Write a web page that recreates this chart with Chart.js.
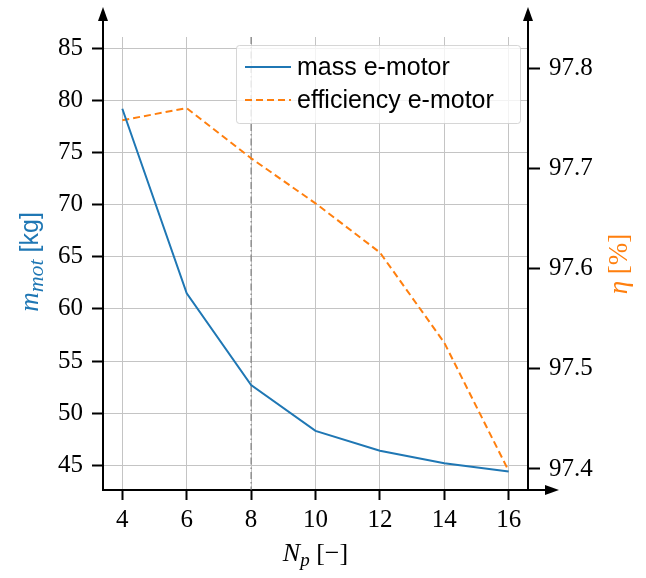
<!DOCTYPE html>
<html>
<head>
<meta charset="utf-8">
<script src="https://cdn.jsdelivr.net/npm/chart.js@4.4.0/dist/chart.umd.min.js"></script>
<style>
body { margin: 0; background: #fff; }
canvas { display: block; }
</style>
</head>
<body>
<canvas id="myChart" width="646" height="578"></canvas>
<script>
var np = [4, 6, 8, 10, 12, 14, 16];
var massMotor = [79.2, 61.5, 52.7, 48.3, 46.4, 45.2, 44.4];
var effMotor = [97.748, 97.760, 97.710, 97.665, 97.616, 97.526, 97.398];
var xTicks = [4, 6, 8, 10, 12, 14, 16];
var massTicks = [45, 50, 55, 60, 65, 70, 75, 80, 85];
var effTicks = [97.4, 97.5, 97.6, 97.7, 97.8];
var chosenNp = 8;
var names = ['mass e-motor', 'efficiency e-motor'];

var blue = '#1f77b4';
var orange = '#ff7f0e';
var serif = '"Liberation Serif", "DejaVu Serif", serif';
var sans = '"Liberation Sans", Arial, sans-serif';

function pts(ys) {
  return np.map(function (x, i) { return { x: x, y: ys[i] }; });
}

// draws a row of text pieces centred on (cx, cy), rotated by rot
function richText(ctx, pieces, cx, cy, rot, color) {
  ctx.save();
  ctx.translate(cx, cy);
  ctx.rotate(rot);
  ctx.fillStyle = color;
  ctx.textBaseline = 'alphabetic';
  var total = 0;
  pieces.forEach(function (p) { ctx.font = p.font; total += ctx.measureText(p.t).width; });
  var x = -total / 2;
  pieces.forEach(function (p) {
    ctx.font = p.font;
    ctx.fillText(p.t, x, p.dy || 0);
    x += ctx.measureText(p.t).width;
  });
  ctx.restore();
}

function arrow(ctx, x1, y1, x2, y2, x3, y3) {
  ctx.beginPath();
  ctx.moveTo(x1, y1); ctx.lineTo(x2, y2); ctx.lineTo(x3, y3);
  ctx.closePath();
  ctx.fill();
}

var extras = {
  id: 'extras',
  beforeDatasetsDraw: function (chart) {
    var ctx = chart.ctx, a = chart.chartArea;
    var px = chart.scales.x.getPixelForValue(chosenNp);
    ctx.save();
    ctx.strokeStyle = 'rgba(120,120,120,0.75)';
    ctx.lineWidth = 1.5;
    ctx.setLineDash([7, 3, 1.5, 3]);
    ctx.beginPath();
    ctx.moveTo(px, a.top);
    ctx.lineTo(px, a.bottom);
    ctx.stroke();
    ctx.restore();
  },
  afterDraw: function (chart) {
    var ctx = chart.ctx, a = chart.chartArea;
    ctx.save();
    // spine extensions + arrow heads
    ctx.strokeStyle = '#000';
    ctx.fillStyle = '#000';
    ctx.lineWidth = 2;
    ctx.beginPath();
    ctx.moveTo(a.left, a.top); ctx.lineTo(a.left, 18);
    ctx.moveTo(a.right, a.top); ctx.lineTo(a.right, 18);
    ctx.moveTo(a.right, a.bottom); ctx.lineTo(547, a.bottom);
    ctx.stroke();
    arrow(ctx, a.left, 7, a.left - 5, 21, a.left + 5, 21);
    arrow(ctx, a.right, 7, a.right - 5, 21, a.right + 5, 21);
    arrow(ctx, 559, a.bottom, 545, a.bottom - 5, 545, a.bottom + 5);

    // legend
    var lx = 236, ly = 45, lw = 284, lh = 78;
    ctx.fillStyle = 'rgba(255,255,255,0.8)';
    ctx.strokeStyle = 'rgba(204,204,204,0.8)';
    ctx.lineWidth = 1;
    ctx.beginPath();
    ctx.roundRect(lx + 0.5, ly + 0.5, lw, lh, 3);
    ctx.fill();
    ctx.stroke();
    var rows = [67, 100];
    chart.data.datasets.forEach(function (ds, i) {
      ctx.strokeStyle = ds.borderColor;
      ctx.lineWidth = 2;
      ctx.setLineDash(ds.borderDash || []);
      ctx.beginPath();
      ctx.moveTo(245, rows[i]);
      ctx.lineTo(291, rows[i]);
      ctx.stroke();
      ctx.setLineDash([]);
      ctx.fillStyle = '#000';
      ctx.font = '25px ' + sans;
      ctx.textBaseline = 'middle';
      ctx.fillText(ds.label, 297, rows[i] + 1);
    });
    ctx.restore();

    // axis titles
    richText(ctx, [
      { t: 'N', font: 'italic 26px ' + serif },
      { t: 'p', font: 'italic 19px ' + serif, dy: 5 },
      { t: ' [\u2212]', font: '26px ' + serif }
    ], (a.left + a.right) / 2, 561, 0, '#000');
    richText(ctx, [
      { t: 'm', font: 'italic 27px ' + serif },
      { t: 'mot', font: 'italic 22px ' + serif, dy: 5 },
      { t: ' [kg]', font: '25px ' + sans }
    ], 38, 262, -Math.PI / 2, blue);
    richText(ctx, [
      { t: '\u03b7', font: 'italic 27px ' + serif },
      { t: ' [%]', font: '27px ' + serif }
    ], 627, 264, -Math.PI / 2, orange);
  }
};

var ctx1 = document.getElementById('myChart').getContext('2d');
var chart = new Chart(ctx1, {
  type: 'line',
  data: {
    datasets: [{
      label: names[0],
      data: pts(massMotor),
      borderColor: blue,
      borderWidth: 2,
      pointRadius: 0,
      tension: 0,
      yAxisID: 'y'
    }, {
      label: names[1],
      data: pts(effMotor),
      borderColor: orange,
      borderWidth: 2,
      borderDash: [7, 4],
      pointRadius: 0,
      tension: 0,
      yAxisID: 'y1'
    }]
  },
  options: {
    responsive: false,
    animation: false,
    layout: { padding: { top: 37, left: 0, right: 0, bottom: 0 } },
    plugins: { legend: { display: false }, tooltip: { enabled: false } },
    scales: {
      x: {
        type: 'linear',
        min: 3.4,
        max: 16.6,
        afterBuildTicks: function (s) { s.ticks = xTicks.map(function (v) { return { value: v }; }); },
        afterFit: function (s) { s.height = 88; },
        grid: { color: '#c4c4c4', lineWidth: 1, tickColor: '#000', tickLength: 10, tickWidth: 2 },
        border: { color: '#000', width: 2 },
        ticks: { color: '#000', font: { family: serif, size: 25 }, padding: 5, maxRotation: 0 }
      },
      y: {
        type: 'linear',
        position: 'left',
        min: 42.63,
        max: 86.08,
        afterBuildTicks: function (s) { s.ticks = massTicks.map(function (v) { return { value: v }; }); },
        afterFit: function (s) { s.width = 103; },
        grid: { color: '#c4c4c4', lineWidth: 1, tickColor: '#000', tickLength: 11, tickWidth: 2 },
        border: { color: '#000', width: 2 },
        ticks: { color: '#000', font: { family: serif, size: 25 }, padding: 9 }
      },
      y1: {
        type: 'linear',
        position: 'right',
        min: 97.379,
        max: 97.831,
        afterBuildTicks: function (s) { s.ticks = effTicks.map(function (v) { return { value: v }; }); },
        afterFit: function (s) { s.width = 118; },
        grid: { drawOnChartArea: false, tickColor: '#000', tickLength: 12, tickWidth: 2 },
        border: { color: '#000', width: 2 },
        ticks: {
          color: '#000', font: { family: serif, size: 25 }, padding: 9,
          callback: function (v) { return v.toFixed(1); }
        }
      }
    }
  },
  plugins: [extras]
});
</script>
</body>
</html>
